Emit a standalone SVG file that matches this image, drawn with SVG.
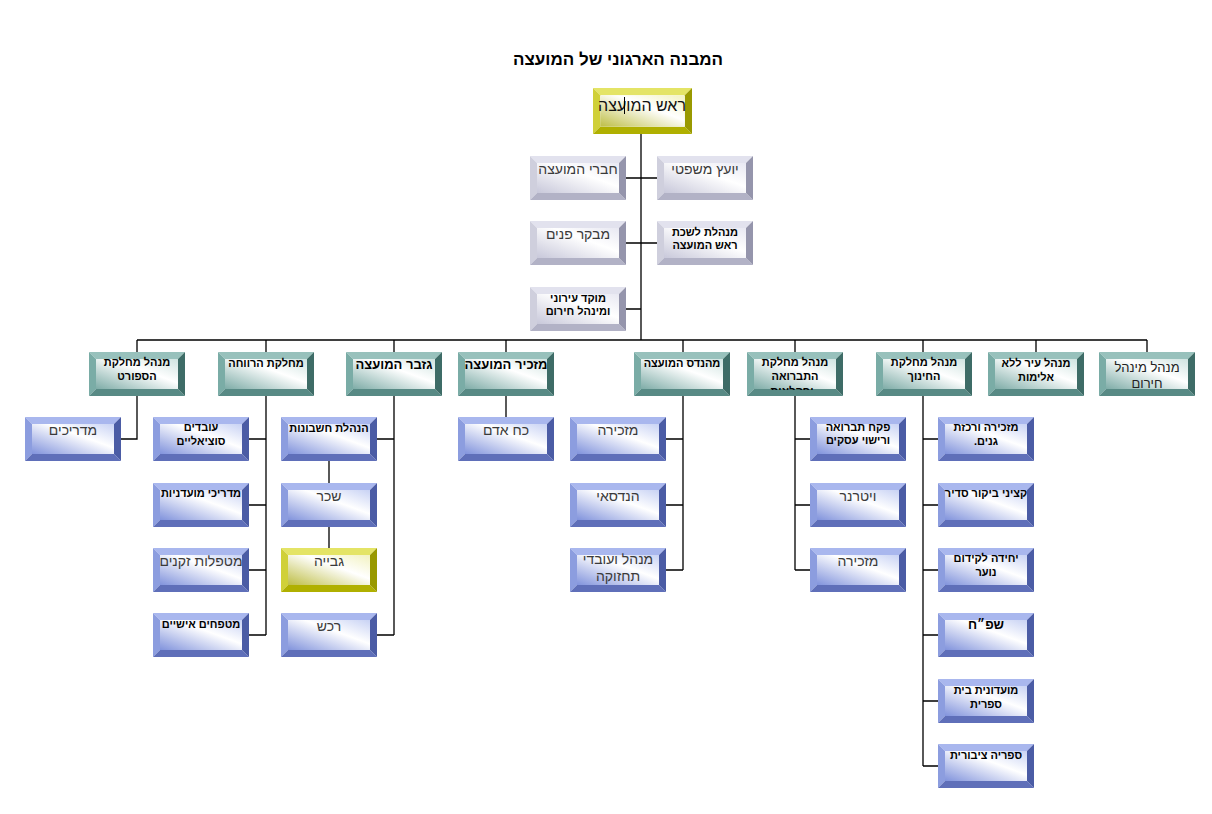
<svg xmlns="http://www.w3.org/2000/svg" xmlns:xlink="http://www.w3.org/1999/xlink" width="1212" height="814" viewBox="0 0 1212 814">
<defs>
<style>
.ln{stroke:#000;stroke-width:1.3;fill:none}
.t{font-family:"Liberation Sans",Arial,sans-serif;text-anchor:middle;direction:rtl}
.n{font-size:14px;fill:#3a3a3a}
.b{font-size:11px;font-weight:bold;fill:#000}
.b13{font-size:13px;font-weight:bold;fill:#000}
</style>
<linearGradient id="gBlue" x1="1" y1="0" x2="0" y2="1"><stop offset="0" stop-color="#c8d2f4"/><stop offset="0.4" stop-color="#ffffff"/><stop offset="1" stop-color="#8193dc"/></linearGradient>
<linearGradient id="gTeal" x1="1" y1="0" x2="0" y2="1"><stop offset="0" stop-color="#cfe3e0"/><stop offset="0.4" stop-color="#ffffff"/><stop offset="1" stop-color="#7eaca7"/></linearGradient>
<linearGradient id="gGray" x1="1" y1="0" x2="0" y2="1"><stop offset="0" stop-color="#e8e8f2"/><stop offset="0.4" stop-color="#ffffff"/><stop offset="1" stop-color="#c8c8da"/></linearGradient>
<linearGradient id="gYel" x1="1" y1="0" x2="0" y2="1"><stop offset="0" stop-color="#f2f2c0"/><stop offset="0.4" stop-color="#ffffff"/><stop offset="1" stop-color="#bebe46"/></linearGradient>
<symbol id="bxBlue" viewBox="0 0 96 44" preserveAspectRatio="none">
<polygon points="0,0 96,0 89,7 7,7" fill="#a9b7ee"/><polygon points="0,0 7,7 7,37 0,44" fill="#8c9ddf"/><polygon points="0,44 7,37 89,37 96,44" fill="#5f6fb9"/><polygon points="96,0 96,44 89,37 89,7" fill="#4b5ca5"/><rect x="7" y="7" width="82" height="30" fill="url(#gBlue)"/>
</symbol>
<symbol id="bxTeal" viewBox="0 0 96 44" preserveAspectRatio="none">
<polygon points="0,0 96,0 89,7 7,7" fill="#98c1bc"/><polygon points="0,0 7,7 7,37 0,44" fill="#7aaca6"/><polygon points="0,44 7,37 89,37 96,44" fill="#588a85"/><polygon points="96,0 96,44 89,37 89,7" fill="#3e6c67"/><rect x="7" y="7" width="82" height="30" fill="url(#gTeal)"/>
</symbol>
<symbol id="bxGray" viewBox="0 0 96 44" preserveAspectRatio="none">
<polygon points="0,0 96,0 89,7 7,7" fill="#e2e2ee"/><polygon points="0,0 7,7 7,37 0,44" fill="#cfcfdd"/><polygon points="0,44 7,37 89,37 96,44" fill="#b2b2c6"/><polygon points="96,0 96,44 89,37 89,7" fill="#9595ac"/><rect x="7" y="7" width="82" height="30" fill="url(#gGray)"/>
</symbol>
<symbol id="bxYel" viewBox="0 0 96 44" preserveAspectRatio="none">
<polygon points="0,0 96,0 89,7 7,7" fill="#e4e466"/><polygon points="0,0 7,7 7,37 0,44" fill="#d0d038"/><polygon points="0,44 7,37 89,37 96,44" fill="#b0b000"/><polygon points="96,0 96,44 89,37 89,7" fill="#999900"/><rect x="7" y="7" width="82" height="30" fill="url(#gYel)"/>
</symbol>
<clipPath id="clipSan"><rect x="747" y="352" width="96" height="38"/></clipPath>
</defs>
<rect width="1212" height="814" fill="#fff"/>

<text class="t" x="618" y="65" style="font-size:17px;font-weight:bold;fill:#000">המבנה הארגוני של המועצה</text>

<g id="connectors">
<path class="ln" d="M641 134V340M137 340H1147"/>
<path class="ln" d="M625 178H657M625 243H657M625 309H641"/>
<path class="ln" d="M137 340V352M266 340V352M394 340V352M506 340V352M683 340V352M795 340V352M923 340V352M1036 340V352M1147 340V352"/>
<path class="ln" d="M137 396V439H121"/>
<path class="ln" d="M266 396V635M249 439H266M249 505H266M249 570H266M249 635H266"/>
<path class="ln" d="M394 396V635M377 439H394M377 635H394M329 461V483M329 527V548"/>
<path class="ln" d="M506 396V417"/>
<path class="ln" d="M683 396V570M666 439H683M666 505H683M666 570H683"/>
<path class="ln" d="M795 396V570M795 439H810M795 505H810M795 570H810"/>
<path class="ln" d="M923 396V766M923 439H938M923 505H938M923 570H938M923 635H938M923 701H938M923 766H938"/>
</g>

<g id="head"><use xlink:href="#bxYel" href="#bxYel" x="593" y="88" width="99" height="46"/><text class="t" x="642" y="111" style="font-size:16px;fill:#111">ראש המועצה</text><line x1="624.5" y1="97" x2="624.5" y2="114" stroke="#000" stroke-width="1"/></g>

<g id="legal"><use href="#bxGray" x="657" y="156" width="96" height="44"/><text class="t n" x="705" y="174">יועץ משפטי</text></g>
<g id="members"><use href="#bxGray" x="530" y="156" width="96" height="44"/><text class="t n" x="578" y="174">חברי המועצה</text></g>
<g id="bureau"><use href="#bxGray" x="657" y="221" width="96" height="44"/><text class="t b" x="705" y="236">מנהלת לשכת</text><text class="t b" x="705" y="249">ראש המועצה</text></g>
<g id="auditor"><use href="#bxGray" x="530" y="221" width="96" height="44"/><text class="t n" x="578" y="239">מבקר פנים</text></g>
<g id="hotline"><use href="#bxGray" x="530" y="287" width="96" height="44"/><text class="t b" x="578" y="302">מוקד עירוני</text><text class="t b" x="578" y="315">ומינהל חירום</text></g>

<g id="sport"><use href="#bxTeal" x="89" y="352" width="96" height="44"/><text class="t b" x="137" y="366">מנהל מחלקת</text><text class="t b" x="137" y="380">הספורט</text></g>
<g id="welfare"><use href="#bxTeal" x="218" y="352" width="96" height="44"/><text class="t b" x="266" y="367">מחלקת הרווחה</text></g>
<g id="treasurer"><use href="#bxTeal" x="346" y="352" width="96" height="44"/><text class="t b13" x="394" y="369">גזבר המועצה</text></g>
<g id="secretary"><use href="#bxTeal" x="458" y="352" width="96" height="44"/><text class="t b13" x="506" y="369">מזכיר המועצה</text></g>
<g id="engineer"><use href="#bxTeal" x="634" y="352" width="96" height="44"/><text class="t b" x="682" y="367">מהנדס המועצה</text></g>
<g id="sanitation"><use href="#bxTeal" x="747" y="352" width="96" height="44"/><text class="t b" x="795" y="366">מנהל מחלקת</text><text class="t b" x="795" y="380">התברואה</text><text class="t b" x="792" y="395" clip-path="url(#clipSan)">וחקלאות</text></g>
<g id="education"><use href="#bxTeal" x="876" y="352" width="96" height="44"/><text class="t b" x="924" y="366">מנהל מחלקת</text><text class="t b" x="924" y="380">החינוך</text></g>
<g id="noviolence"><use href="#bxTeal" x="988" y="352" width="96" height="44"/><text class="t b" x="1036" y="367">מנהל עיר ללא</text><text class="t b" x="1036" y="381">אלימות</text></g>
<g id="emergency"><use href="#bxTeal" x="1099" y="352" width="96" height="44"/><text class="t" x="1147" y="372" style="font-size:13px;fill:#222">מנהל מינהל</text><text class="t" x="1147" y="388" style="font-size:13px;fill:#222">חירום</text></g>

<g id="instructors"><use href="#bxBlue" x="25" y="417" width="96" height="44"/><text class="t n" x="73" y="435">מדריכים</text></g>

<g id="socialworkers"><use href="#bxBlue" x="153" y="417" width="96" height="44"/><text class="t b" x="201" y="431">עובדים</text><text class="t b" x="201" y="445">סוציאליים</text></g>
<g id="clubguides"><use href="#bxBlue" x="153" y="483" width="96" height="44"/><text class="t b" x="201" y="497">מדריכי מועדניות</text></g>
<g id="eldercare"><use href="#bxBlue" x="153" y="548" width="96" height="44"/><text class="t n" x="201" y="566">מטפלות זקנים</text></g>
<g id="personalcare"><use href="#bxBlue" x="153" y="613" width="96" height="44"/><text class="t b" x="201" y="628">מטפחים אישיים</text></g>

<g id="accounting"><use href="#bxBlue" x="281" y="417" width="96" height="44"/><text class="t b" x="329" y="432">הנהלת חשבונות</text></g>
<g id="payroll"><use href="#bxBlue" x="281" y="483" width="96" height="44"/><text class="t n" x="329" y="501">שכר</text></g>
<g id="collection"><use href="#bxYel" x="281" y="548" width="96" height="44"/><text class="t n" x="329" y="566">גבייה</text></g>
<g id="procurement"><use href="#bxBlue" x="281" y="613" width="96" height="44"/><text class="t n" x="329" y="631">רכש</text></g>

<g id="hr"><use href="#bxBlue" x="458" y="417" width="96" height="44"/><text class="t n" x="506" y="435">כח אדם</text></g>

<g id="engsecretary"><use href="#bxBlue" x="570" y="417" width="96" height="44"/><text class="t n" x="618" y="435">מזכירה</text></g>
<g id="technician"><use href="#bxBlue" x="570" y="483" width="96" height="44"/><text class="t n" x="618" y="501">הנדסאי</text></g>
<g id="maintenance"><use href="#bxBlue" x="570" y="548" width="96" height="44"/><text class="t n" x="618" y="564">מנהל ועובדי</text><text class="t n" x="618" y="581">תחזוקה</text></g>

<g id="inspector"><use href="#bxBlue" x="810" y="417" width="96" height="44"/><text class="t b" x="858" y="431">פקח תברואה</text><text class="t b" x="858" y="444">ורישוי עסקים</text></g>
<g id="vet"><use href="#bxBlue" x="810" y="483" width="96" height="44"/><text class="t n" x="858" y="501">ויטרנר</text></g>
<g id="sansecretary"><use href="#bxBlue" x="810" y="548" width="96" height="44"/><text class="t n" x="858" y="566">מזכירה</text></g>

<g id="kindergartens"><use href="#bxBlue" x="938" y="417" width="96" height="44"/><text class="t b" x="986" y="431">מזכירה ורכזת</text><text class="t b" x="986" y="445">גנים.</text></g>
<g id="truancy"><use href="#bxBlue" x="938" y="483" width="96" height="44"/><text class="t b" x="986" y="497">קציני ביקור סדיר</text></g>
<g id="youth"><use href="#bxBlue" x="938" y="548" width="96" height="44"/><text class="t b" x="986" y="562">יחידה לקידום</text><text class="t b" x="986" y="576">נוער</text></g>
<g id="psych"><use href="#bxBlue" x="938" y="613" width="96" height="44"/><text class="t b13" x="986" y="629">שפ״ח</text></g>
<g id="schoolclub"><use href="#bxBlue" x="938" y="679" width="96" height="44"/><text class="t b" x="986" y="694">מועדונית בית</text><text class="t b" x="986" y="708">ספרית</text></g>
<g id="library"><use href="#bxBlue" x="938" y="744" width="96" height="44"/><text class="t b" x="986" y="759">ספריה ציבורית</text></g>
</svg>
